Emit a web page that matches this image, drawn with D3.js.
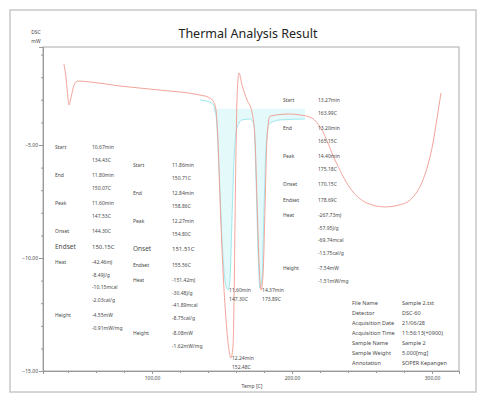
<!DOCTYPE html>
<html>
<head>
<meta charset="utf-8">
<script src="https://cdn.jsdelivr.net/npm/d3@7"></script>
<style>
  body { margin: 0; background: #fff; }
  svg text { font-family: "Noto Sans", "Open Sans", sans-serif; fill: #4a4a4a; }
</style>
</head>
<body>
<div id="vis"></div>
<script>
// DSC trace (temperature C, DSC mW)
const redTemp = [37.1, 38.6, 40.0, 40.7, 42.1, 44.3, 47.1, 55.7, 77.1, 105.7, 134.3, 140.0, 143.6, 145.7, 147.1, 148.6, 150.7, 152.9, 155.0, 156.4, 157.9, 158.6, 159.3, 160.0, 160.7, 162.1, 164.3, 167.9, 171.4, 173.6, 175.0, 176.4, 177.9, 179.3, 180.7, 182.1, 184.3, 198.6, 205.7, 214.3, 221.4, 230.7, 241.4, 253.6, 266.4, 277.1, 285.7, 292.9, 297.1, 300.7, 303.6, 306.4]
const redDsc = [-1.42, -2.04, -2.92, -3.23, -2.92, -2.35, -2.17, -2.21, -2.39, -2.57, -2.79, -2.88, -3.05, -3.45, -4.78, -7.43, -10.53, -12.74, -14.07, -14.42, -13.85, -11.86, -8.32, -5.22, -3.01, -1.81, -2.35, -3.01, -3.54, -4.78, -7.43, -10.09, -11.42, -10.75, -7.88, -4.78, -3.72, -3.63, -3.67, -3.81, -4.34, -5.66, -6.90, -7.57, -7.74, -7.65, -7.35, -6.64, -5.88, -4.91, -3.81, -2.70]

const cyanTemp = [134.3, 142.9, 145.7, 147.9, 150.0, 152.1, 154.3, 155.7, 157.1, 158.6, 160.7, 164.3, 170.0, 172.9, 174.3, 175.7, 177.1, 178.6, 180.0, 181.4, 183.6, 191.4, 209.3]
const cyanDsc = [-3.01, -3.14, -3.67, -6.11, -9.20, -10.97, -11.42, -10.97, -8.32, -5.66, -4.25, -3.89, -3.85, -4.12, -6.55, -9.65, -11.33, -10.88, -7.88, -5.22, -4.07, -3.89, -3.85]

const yMajor = [-5, -10, -15]
const yMinor = d3.range(-15, 0, 1)
const xMajor = [100, 200, 300]
const xMinor = d3.range(40, 320, 20)

// peak annotations
const block1Labels = ['Start', 'End', 'Peak', 'Onset', 'Endset', 'Heat', 'Height']
const block1Values = [['10.67min', '134.43C'], ['11.80min', '150.07C'], ['11.60min', '147.53C'], ['144.30C'], ['150.15C'],
  ['-42.46mJ', '-8.49J/g', '-10.15mcal', '-2.03cal/g'], ['-4.55mW', '-0.91mW/mg']]
const block2Labels = ['Start', 'End', 'Peak', 'Onset', 'Endset', 'Heat', 'Height']
const block2Values = [['11.86min', '150.71C'], ['12.84min', '158.86C'], ['12.27min', '154.80C'], ['151.51C'], ['155.56C'],
  ['-151.42mJ', '-30.48J/g', '-41.89mcal', '-8.75cal/g'], ['-8.08mW', '-1.62mW/mg']]
const block3Labels = ['Start', 'End', 'Peak', 'Onset', 'Endset', 'Heat', 'Height']
const block3Values = [['13.27min', '163.99C'], ['13.20min', '165.15C'], ['14.40min', '175.18C'], ['170.15C'], ['178.69C'],
  ['-267.73mJ', '-57.95J/g', '-69.74mcal', '-13.75cal/g'], ['-7.54mW', '-1.51mW/mg']]

const peakLabels = [['11.60min', '147.30C'], ['12.24min', '152.48C'], ['14.37min', '173.89C']]

const infoLabels = ['File Name', 'Detector', 'Acquisition Date', 'Acquisition Time', 'Sample Name', 'Sample Weight', 'Annotation']
const infoValues = ['Sample 2.txt', 'DSC-60', '21/06/28', '11:56:13(+0900)', 'Sample 2', '5.000[mg]', 'SOPER Kepangen']

const W = 480, H = 396
const plot = {left: 43, right: 459, top: 47, bottom: 371}

let svg = d3.select('#vis').append('svg')
  .attr('width', W).attr('height', H)

// outer frame
svg.append('rect')
  .attr('x', 10).attr('y', 10).attr('width', 466).attr('height', 382)
  .attr('fill', '#fff').attr('stroke', '#c8c8c8').attr('stroke-width', 1.5)

svg.append('text')
  .attr('x', 248).attr('y', 38)
  .attr('text-anchor', 'middle')
  .style('font-size', '12.5px').style('fill', '#222')
  .text('Thermal Analysis Result')

let x = d3.scaleLinear()
  .domain([100 + (plot.left - 152) / 1.4, 100 + (plot.right - 152) / 1.4])
  .range([plot.left, plot.right])
let y = d3.scaleLinear()
  .domain([-15, -5 + (145 - plot.top) / 22.6])
  .range([plot.bottom, plot.top])

// plot frame
svg.append('rect')
  .attr('x', plot.left).attr('y', plot.top)
  .attr('width', plot.right - plot.left).attr('height', plot.bottom - plot.top)
  .attr('fill', 'none').attr('stroke', '#aaa').attr('stroke-width', 1)

// y axis
let yAxisMinor = d3.axisLeft(y).tickValues(yMinor).tickSize(2).tickFormat('')
let yAxis = d3.axisLeft(y).tickValues(yMajor).tickSize(4).tickFormat(d3.format('.2f'))
svg.append('g').attr('transform', `translate(${plot.left},0)`).call(yAxisMinor)
let gy = svg.append('g').attr('transform', `translate(${plot.left},0)`).call(yAxis)
svg.append('text').attr('x', 36).attr('y', 34).attr('text-anchor', 'middle').style('font-size', '5px').text('DSC')
svg.append('text').attr('x', 36).attr('y', 43).attr('text-anchor', 'middle').style('font-size', '5px').text('mW')

// x axis
let xAxisMinor = d3.axisBottom(x).tickValues(xMinor).tickSize(2).tickFormat('')
let xAxis = d3.axisBottom(x).tickValues(xMajor).tickSize(3).tickFormat(d3.format('.2f'))
svg.append('g').attr('transform', `translate(0,${plot.bottom})`).call(xAxisMinor)
let gx = svg.append('g').attr('transform', `translate(0,${plot.bottom})`).call(xAxis)
svg.append('text').attr('x', 252).attr('y', 388).attr('text-anchor', 'middle').style('font-size', '5px').text('Temp [C]')

svg.selectAll('.domain').attr('stroke', '#999')
svg.selectAll('.tick line').attr('stroke', '#999')
gy.selectAll('.tick text').style('font-size', '5px').attr('x', -5)
gx.selectAll('.tick text').style('font-size', '5px').attr('y', 5)

// traces
let line = d3.line()
  .x(d => x(d[0])).y(d => y(d[1]))
  .curve(d3.curveMonotoneX)

let red = redTemp.map((t, i) => [t, redDsc[i]])
let cyan = cyanTemp.map((t, i) => [t, cyanDsc[i]])

// faint shading under the cyan peaks
let area = d3.area()
  .x(d => x(d[0]))
  .y0(d => y(Math.min(d[1], -3.4)))
  .y1(() => y(-3.4))
  .curve(d3.curveMonotoneX)
svg.append('path').datum(cyan)
  .attr('d', area)
  .attr('fill', '#e3f9fa')

svg.append('path').datum(cyan)
  .attr('d', line)
  .attr('fill', 'none').attr('stroke', '#9fe8ee').attr('stroke-width', 1)

svg.append('path').datum(red)
  .attr('d', line)
  .attr('fill', 'none').attr('stroke', '#f19a8e').attr('stroke-width', 0.9)

// peak labels at the bottoms of the peaks
let peaks = [
  cyan.filter(d => d[0] < 160).reduce((a, b) => b[1] < a[1] ? b : a),
  red.filter(d => d[0] < 160).reduce((a, b) => b[1] < a[1] ? b : a),
  red.filter(d => d[0] > 170 && d[0] < 190).reduce((a, b) => b[1] < a[1] ? b : a)
]
peaks.forEach((p, i) => {
  peakLabels[i].forEach((s, j) => {
    svg.append('text')
      .attr('x', x(p[0]) + 1).attr('y', y(p[1]) + 2 + j * 9)
      .style('font-size', '5px')
      .text(s)
  })
})

// result blocks
function drawBlock(labels, values, lx, vx, top){
  let yy = top
  labels.forEach((lab, i) => {
    let big = (values[i].length === 1 && (lab === 'Endset' && lx < 100 || lab === 'Onset' && lx > 100 && lx < 200))
    svg.append('text')
      .attr('x', lx).attr('y', yy + 2)
      .style('font-size', big ? '6.5px' : '5px')
      .text(lab)
    values[i].forEach((v, j) => {
      svg.append('text')
        .attr('x', vx).attr('y', yy + 2 + j * 12.5)
        .style('font-size', big ? '6px' : '5px')
        .text(v)
    })
    yy += values[i].length * 12.5 + 3
  })
}
drawBlock(block1Labels, block1Values, 55, 92, 147)
drawBlock(block2Labels, block2Values, 133, 172, 165)
drawBlock(block3Labels, block3Values, 283, 318, 100)

// file info
infoLabels.forEach((lab, i) => {
  svg.append('text').attr('x', 352).attr('y', 305 + i * 10).style('font-size', '5.5px').text(lab)
  svg.append('text').attr('x', 402).attr('y', 305 + i * 10).style('font-size', '5.5px').text(infoValues[i])
})
</script>
</body>
</html>
